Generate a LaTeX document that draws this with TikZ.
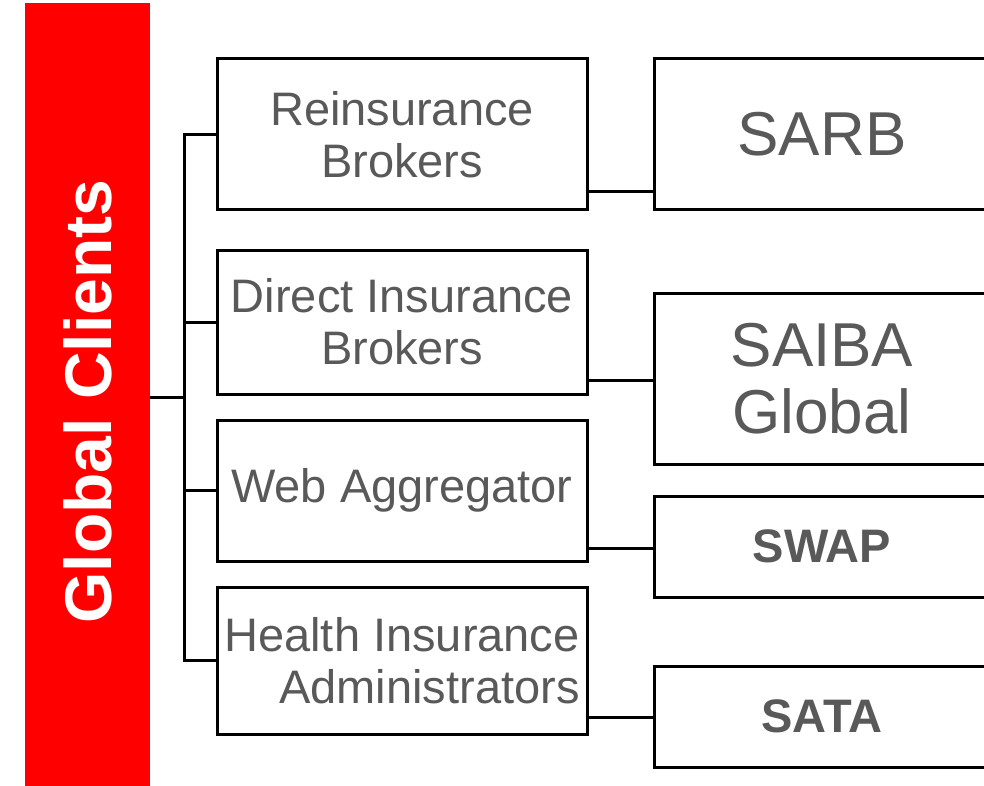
\documentclass[tikz,border=0pt]{standalone}
\usepackage{fontspec}
\setmainfont{Liberation Sans}
\usepackage{graphicx}
\definecolor{txtgray}{HTML}{595959}
\begin{document}
\begin{tikzpicture}[x=1pt,y=-1pt,
  leftbox/.style={draw, line width=3pt, minimum width=370pt, inner sep=0pt, align=center,
    text=txtgray, font=\fontsize{47}{52}\selectfont},
  rightbox/.style={draw, line width=3pt, minimum width=336pt, inner sep=0pt, align=center,
    text=txtgray, font=\fontsize{62}{67}\selectfont},
  smallbox/.style={rightbox, font=\fontsize{47}{52}\selectfont\bfseries},
  link/.style={line width=3pt}]
\useasboundingbox (0,0) rectangle (984,786);
\clip (0,0) rectangle (984,786);
\node[fill=red, minimum width=125pt, minimum height=797pt, inner sep=0pt, text=white,
  font=\fontsize{66}{70}\selectfont\bfseries] (clients) at (87.5,401.5) {\rotatebox{90}{Global Clients}};
\coordinate (hub) at (184,397);
\node[leftbox, minimum height=151pt] (reins) at (402,134.5) {Reinsurance\\Brokers};
\node[leftbox, minimum height=144pt] (direct) at (402,322) {Direct Insurance\\Brokers};
\node[leftbox, minimum height=141pt] (web) at (402,490.5) {Web Aggregator};
\node[leftbox, minimum height=147pt, align=right] (health) at (402,660.5) {Health Insurance\\Administrators};
\node[rightbox, minimum height=151pt] (sarb) at (822,134.5) {SARB};
\node[rightbox, minimum height=171pt] (saiba) at (822,378.5) {SAIBA\\Global};
\node[smallbox, minimum height=101pt] (swap) at (822,546.5) {SWAP};
\node[smallbox, minimum height=101pt] (sata) at (822,716.5) {SATA};
\draw[link] (clients.east |- hub) -- (hub);
\draw[link] (hub) |- (reins.west);
\draw[link] (hub) |- (direct.west);
\draw[link] (hub) |- (web.west);
\draw[link] (hub) |- (health.west);
\draw[link] ([yshift=20pt]reins.south east) -- ([yshift=20pt]reins.south east -| sarb.west);
\draw[link] ([yshift=15pt]direct.south east) -- ([yshift=15pt]direct.south east -| saiba.west);
\draw[link] ([yshift=14pt]web.south east) -- ([yshift=14pt]web.south east -| swap.west);
\draw[link] ([yshift=18pt]health.south east) -- ([yshift=18pt]health.south east -| sata.west);
\end{tikzpicture}
\end{document}
